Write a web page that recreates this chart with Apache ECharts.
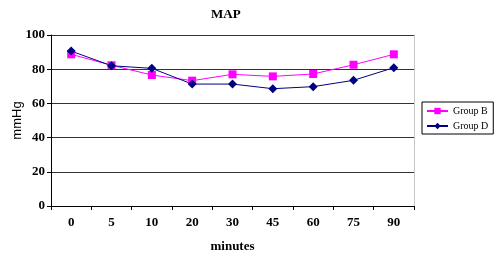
<!DOCTYPE html>
<html>
<head>
<meta charset="utf-8">
<script src="https://cdn.jsdelivr.net/npm/echarts@6/dist/echarts.min.js"></script>
<style>
  html, body { margin: 0; padding: 0; background: #fff; }
  #main { width: 500px; height: 257px; }
</style>
</head>
<body>
<div id="main"></div>
<script>
var minutes = ['0', '5', '10', '20', '30', '45', '60', '75', '90'];
var groupB = [88.7, 82.3, 76.6, 73.3, 77.0, 75.8, 77.2, 82.6, 88.7];
var groupD = [90.6, 82.0, 80.5, 71.3, 71.3, 68.6, 69.8, 73.5, 80.9];

var serif = '"Liberation Serif", "Times New Roman", serif';
var myChart = echarts.init(document.getElementById('main'));

var option = {
  animation: false,
  title: {
    text: 'MAP',
    left: 206,
    top: 3,
    textStyle: { fontFamily: serif, fontWeight: 'bold', fontSize: 13, color: '#000' }
  },
  legend: {
    orient: 'vertical',
    left: 422,
    top: 102,
    padding: [4, 5, 3, 4],
    itemGap: 5,
    itemWidth: 21,
    itemHeight: 8,
    borderColor: '#000',
    borderWidth: 1,
    textStyle: { fontFamily: serif, fontSize: 10, color: '#000' },
    data: ['Group B', 'Group D']
  },
  grid: { left: 51, right: 86, top: 35, bottom: 51, outerBoundsMode: 'none' },
  xAxis: {
    type: 'category',
    data: minutes,
    boundaryGap: true,
    name: 'minutes',
    nameLocation: 'middle',
    nameGap: 34,
    nameMoveOverlap: false,
    nameTextStyle: { fontFamily: serif, fontWeight: 'bold', fontSize: 13, color: '#000' },
    axisLine: { lineStyle: { color: '#000', width: 1 } },
    axisTick: { show: true, alignWithLabel: false, length: 4, inside: false, lineStyle: { color: '#000' } },
    axisLabel: { fontFamily: serif, fontWeight: 'bold', fontSize: 13, color: '#000', margin: 10 }
  },
  yAxis: [{
    type: 'value',
    min: 0,
    max: 100,
    interval: 20,
    name: 'mmHg',
    nameLocation: 'middle',
    nameGap: 27,
    nameMoveOverlap: false,
    nameTextStyle: { fontFamily: '"Liberation Sans", Arial, sans-serif', fontSize: 13, color: '#000' },
    axisLine: { show: true, lineStyle: { color: '#000', width: 1 } },
    axisTick: { show: true, length: 4, lineStyle: { color: '#000' } },
    axisLabel: { fontFamily: serif, fontWeight: 'bold', fontSize: 13, color: '#000', margin: 6 },
    splitLine: { show: true, lineStyle: { color: '#333', width: 1 } }
  }, {
    type: 'value',
    position: 'right',
    min: 0,
    max: 100,
    axisLine: { show: true, lineStyle: { color: '#c8c8c8', width: 1 } },
    axisTick: { show: false },
    axisLabel: { show: false },
    splitLine: { show: false }
  }],
  series: [{
    name: 'Group B',
    type: 'line',
    data: groupB,
    symbol: 'rect',
    symbolSize: 8,
    color: '#ff00ff',
    lineStyle: { color: '#ff00ff', width: 1 },
    itemStyle: { color: '#ff00ff' }
  }, {
    name: 'Group D',
    type: 'line',
    data: groupD,
    symbol: 'diamond',
    symbolSize: 9,
    color: '#000080',
    lineStyle: { color: '#000080', width: 1 },
    itemStyle: { color: '#000080' }
  }]
};

myChart.setOption(option);
</script>
</body>
</html>
